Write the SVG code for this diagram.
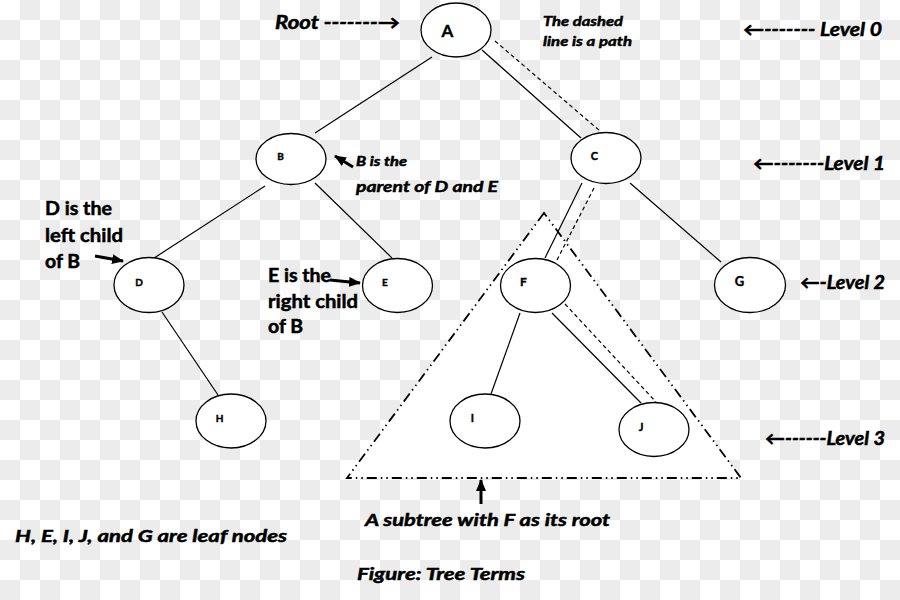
<svg xmlns="http://www.w3.org/2000/svg" width="900" height="600" viewBox="0 0 900 600">
<defs>
<pattern id="chk" width="40" height="40" patternUnits="userSpaceOnUse">
<rect width="40" height="40" fill="#ffffff"/>
<rect x="20" y="0" width="20" height="20" fill="#ececec"/>
<rect x="0" y="20" width="20" height="20" fill="#ececec"/>
</pattern>
<marker id="ah" markerUnits="userSpaceOnUse" markerWidth="12" markerHeight="10" refX="11" refY="5" orient="auto">
<path d="M0,0 L12,5 L0,10 Z" fill="#000"/>
</marker>
<style>
.node ellipse{fill:#fff;stroke:#000;stroke-width:1.3}
.nl{font-family:Lato,"Liberation Sans",sans-serif;font-weight:bold;fill:#000;stroke:#000;stroke-width:0.4}
.edge{stroke:#000;stroke-width:1.2;fill:none}
.path{stroke:#000;stroke-width:1.2;stroke-dasharray:4 3;fill:none}
.bi{font-family:Lato,"Liberation Sans",sans-serif;font-weight:bold;font-style:italic;fill:#000;stroke:#000;stroke-width:0.5}
.b{font-family:Lato,"Liberation Sans",sans-serif;font-weight:bold;fill:#000;stroke:#000;stroke-width:0.5}
.ann{stroke:#000;stroke-width:3;fill:none;marker-end:url(#ah)}
</style>
</defs>
<rect width="900" height="600" fill="url(#chk)"/>

<g id="subtree">
<polygon points="544,213 347,478 741,478" fill="#fff" stroke="#000" stroke-width="1.8" stroke-dasharray="10 4 1.5 4 1.5 4"/>
</g>

<g id="connectors">
<line class="edge" x1="432" y1="57" x2="315" y2="133"/>
<line class="edge" x1="482" y1="50" x2="581" y2="138"/>
<line class="path" x1="495" y1="41" x2="600" y2="131"/>
<line class="edge" x1="265" y1="186" x2="148" y2="262"/>
<line class="edge" x1="315" y1="183" x2="392" y2="258"/>
<line class="edge" x1="162" y1="312" x2="218" y2="395"/>
<line class="edge" x1="582" y1="183" x2="545" y2="258"/>
<line class="path" x1="594" y1="188" x2="557" y2="260"/>
<line class="edge" x1="630" y1="183" x2="721" y2="262"/>
<line class="edge" x1="520" y1="313" x2="491" y2="394"/>
<line class="edge" x1="552" y1="313" x2="641" y2="403"/>
<line class="path" x1="565" y1="304" x2="656" y2="402"/>
</g>

<g id="A" class="node"><ellipse cx="456" cy="30" rx="35" ry="27"/><text class="nl" x="447.5" y="37" font-size="17" text-anchor="middle">A</text></g>
<g id="B" class="node"><ellipse cx="291" cy="159" rx="35" ry="25.5"/><text class="nl" x="280.5" y="159.5" font-size="10" text-anchor="middle">B</text></g>
<g id="C" class="node"><ellipse cx="606" cy="158" rx="35" ry="25.5"/><text class="nl" x="594.5" y="159.5" font-size="11" text-anchor="middle">C</text></g>
<g id="D" class="node"><ellipse cx="149" cy="285" rx="35" ry="27.5"/><text class="nl" x="139" y="285.5" font-size="10" text-anchor="middle">D</text></g>
<g id="E" class="node"><ellipse cx="397.5" cy="285.5" rx="35" ry="27"/><text class="nl" x="385" y="286" font-size="10" text-anchor="middle">E</text></g>
<g id="F" class="node"><ellipse cx="535.5" cy="285.5" rx="35" ry="27"/><text class="nl" x="523.5" y="286" font-size="12" text-anchor="middle">F</text></g>
<g id="G" class="node"><ellipse cx="750" cy="285" rx="35.5" ry="27.5"/><text class="nl" x="739.5" y="286" font-size="13" text-anchor="middle">G</text></g>
<g id="H" class="node"><ellipse cx="231" cy="421" rx="35" ry="27"/><text class="nl" x="219.5" y="422" font-size="10" text-anchor="middle">H</text></g>
<g id="I" class="node"><ellipse cx="485" cy="421" rx="35" ry="27"/><text class="nl" x="472.5" y="422" font-size="11" text-anchor="middle">I</text></g>
<g id="J" class="node"><ellipse cx="654" cy="429.5" rx="35" ry="27"/><text class="nl" x="641" y="430.5" font-size="11" text-anchor="middle">J</text></g>

<g id="annotations">
<text class="bi" x="275" y="29" font-size="18" textLength="125" lengthAdjust="spacingAndGlyphs">Root -------→</text>
<text class="bi" x="543" y="26" font-size="14" textLength="80" lengthAdjust="spacingAndGlyphs">The dashed</text>
<text class="bi" x="543" y="46" font-size="14" textLength="89" lengthAdjust="spacingAndGlyphs">line is a path</text>
<text class="bi" x="743" y="36" font-size="18" textLength="139" lengthAdjust="spacingAndGlyphs">←------- Level 0</text>
<text class="bi" x="753" y="170" font-size="18" textLength="132" lengthAdjust="spacingAndGlyphs">←-------Level 1</text>
<text class="bi" x="800" y="289" font-size="18" textLength="85" lengthAdjust="spacingAndGlyphs">←-Level 2</text>
<text class="bi" x="765" y="445" font-size="18" textLength="120" lengthAdjust="spacingAndGlyphs">←------Level 3</text>

<line class="ann" x1="353" y1="167" x2="335" y2="156"/>
<text class="bi" x="356" y="166" font-size="13" textLength="51" lengthAdjust="spacingAndGlyphs">B is the</text>
<text class="bi" x="356" y="192" font-size="16" textLength="142" lengthAdjust="spacingAndGlyphs">parent of D and E</text>

<text class="b" x="45" y="215" font-size="18" textLength="67" lengthAdjust="spacingAndGlyphs">D is the</text>
<text class="b" x="45" y="242" font-size="18" textLength="78" lengthAdjust="spacingAndGlyphs">left child</text>
<text class="b" x="45" y="268" font-size="18" textLength="35" lengthAdjust="spacingAndGlyphs">of B</text>
<line class="ann" x1="95" y1="256" x2="123" y2="261"/>

<text class="b" x="268" y="282" font-size="18" textLength="63" lengthAdjust="spacingAndGlyphs">E is the</text>
<text class="b" x="268" y="308" font-size="18" textLength="90" lengthAdjust="spacingAndGlyphs">right child</text>
<text class="b" x="268" y="333" font-size="18" textLength="35" lengthAdjust="spacingAndGlyphs">of B</text>
<line class="ann" x1="330" y1="280" x2="360" y2="283"/>

<line class="ann" x1="481" y1="504" x2="481" y2="480"/>
<text class="bi" x="365" y="526" font-size="17" textLength="245" lengthAdjust="spacingAndGlyphs">A subtree with F as its root</text>
<text class="bi" x="15" y="542" font-size="17" textLength="272" lengthAdjust="spacingAndGlyphs">H, E, I, J, and G are leaf nodes</text>
<text class="bi" x="357" y="580" font-size="17" textLength="168" lengthAdjust="spacingAndGlyphs">Figure: Tree Terms</text>
</g>
</svg>
